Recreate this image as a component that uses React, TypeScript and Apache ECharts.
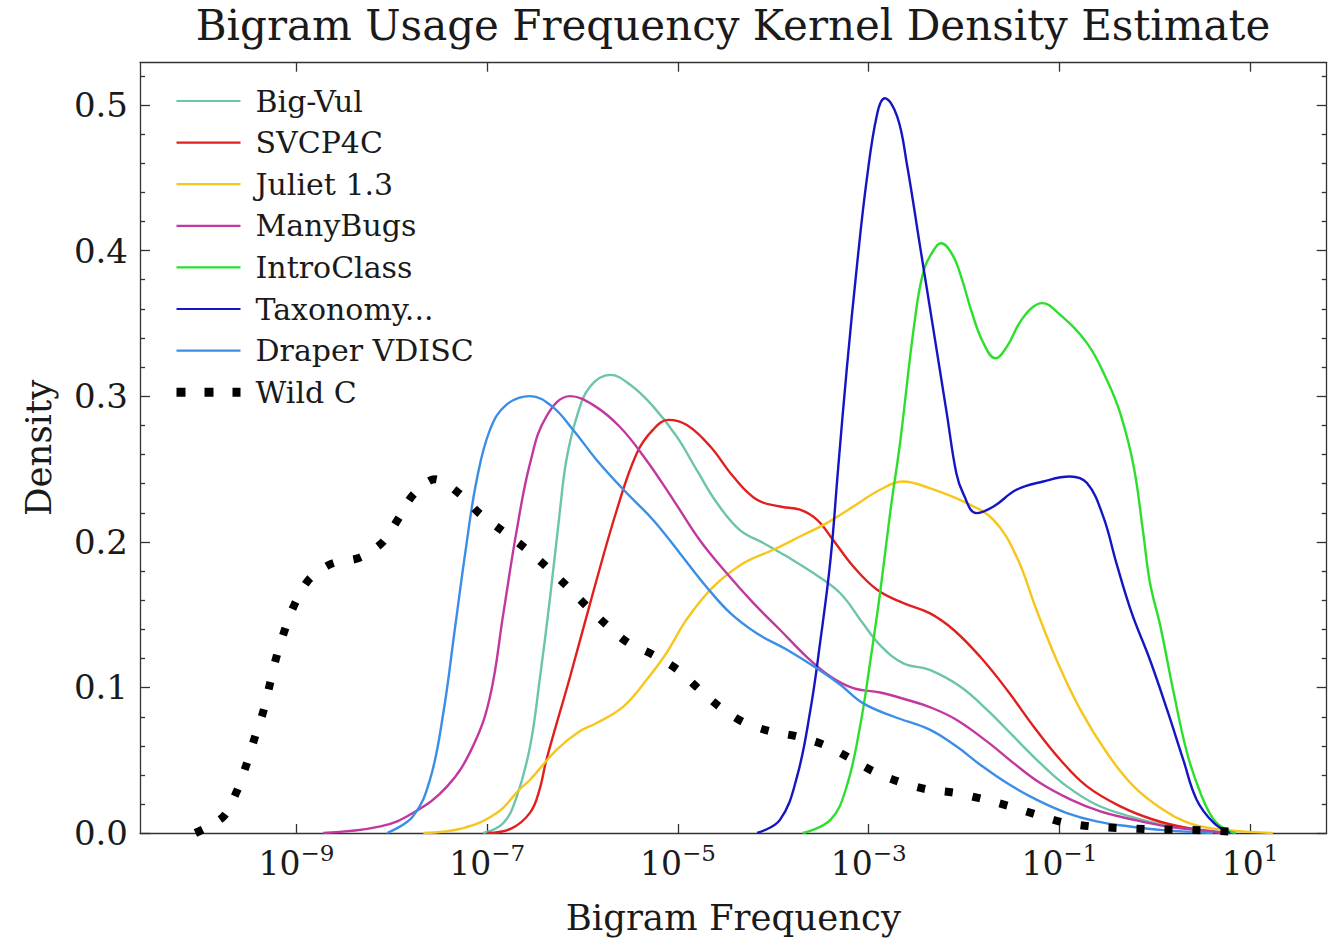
import React, { useEffect, useRef } from 'react';
import * as echarts from 'echarts';

const FONT = "'DejaVu Serif', serif";
const INK = '#1a1a1a';

// x values are log10(bigram frequency), y values are density
const bigVul = [[-7.04,0],[-6.83,0.0069],[-6.69,0.025],[-6.55,0.0595],[-6.45,0.105],[-6.34,0.162],[-6.24,0.2197],[-6.17,0.256],[-6.06,0.286],[-5.92,0.3066],[-5.71,0.3146],[-5.5,0.3078],[-5.26,0.293],[-5.01,0.272],[-4.8,0.249],[-4.59,0.2266],[-4.35,0.208],[-4.1,0.199],[-3.86,0.19],[-3.58,0.1785],[-3.3,0.1648],[-3.06,0.144],[-2.88,0.129],[-2.64,0.1167],[-2.36,0.112],[-2.04,0.1006],[-1.76,0.0847],[-1.48,0.0663],[-1.2,0.048],[-0.92,0.032],[-0.61,0.0194],[-0.26,0.0114],[0.09,0.0057],[0.48,0.0023],[0.79,0]];
const svcp4c = [[-7.0,0],[-6.75,0.003],[-6.55,0.014],[-6.45,0.03],[-6.38,0.05],[-6.13,0.1075],[-5.89,0.165],[-5.64,0.222],[-5.43,0.261],[-5.26,0.277],[-5.1,0.2837],[-4.91,0.2803],[-4.66,0.2654],[-4.42,0.2448],[-4.17,0.2288],[-3.93,0.2242],[-3.72,0.222],[-3.54,0.215],[-3.37,0.201],[-3.16,0.183],[-2.91,0.167],[-2.64,0.158],[-2.36,0.151],[-2.11,0.1396],[-1.83,0.121],[-1.55,0.0984],[-1.27,0.0732],[-0.99,0.0503],[-0.71,0.032],[-0.36,0.0183],[-0.01,0.0091],[0.34,0.0034],[0.69,0]];
const juliet = [[-7.67,0],[-7.25,0.0034],[-6.9,0.0137],[-6.66,0.03],[-6.55,0.0366],[-6.27,0.0572],[-6.03,0.0698],[-5.85,0.0755],[-5.57,0.087],[-5.33,0.105],[-5.12,0.1236],[-4.91,0.1465],[-4.63,0.169],[-4.31,0.1854],[-4.0,0.1945],[-3.72,0.2036],[-3.44,0.2128],[-3.16,0.2242],[-2.88,0.2357],[-2.64,0.2414],[-2.36,0.2368],[-1.97,0.2265],[-1.69,0.215],[-1.45,0.19],[-1.24,0.1533],[-1.03,0.119],[-0.78,0.0847],[-0.5,0.0549],[-0.22,0.032],[0.09,0.016],[0.41,0.0057],[0.79,0.0018],[1.24,0]];
const manyBugs = [[-8.72,0],[-8.12,0.0045],[-7.78,0.0137],[-7.42,0.032],[-7.15,0.0595],[-6.97,0.0938],[-6.83,0.151],[-6.69,0.208],[-6.55,0.254],[-6.38,0.286],[-6.13,0.3],[-5.89,0.294],[-5.61,0.279],[-5.33,0.256],[-5.05,0.229],[-4.77,0.201],[-4.49,0.1785],[-4.21,0.158],[-3.93,0.1396],[-3.65,0.121],[-3.4,0.1075],[-3.16,0.0995],[-2.88,0.0965],[-2.6,0.0915],[-2.36,0.0865],[-2.08,0.0778],[-1.76,0.0629],[-1.48,0.048],[-1.2,0.0343],[-0.88,0.0229],[-0.57,0.0148],[-0.22,0.0091],[0.13,0.0045],[0.48,0.0018],[0.79,0]];
const introClass = [[-3.69,0],[-3.4,0.009],[-3.23,0.032],[-3.09,0.0732],[-2.98,0.119],[-2.88,0.1648],[-2.77,0.222],[-2.67,0.268],[-2.52,0.35],[-2.42,0.3867],[-2.3,0.402],[-2.24,0.405],[-2.12,0.397],[-2.02,0.38],[-1.92,0.358],[-1.8,0.337],[-1.67,0.326],[-1.55,0.334],[-1.42,0.35],[-1.3,0.36],[-1.18,0.3639],[-1.01,0.357],[-0.71,0.3364],[-0.5,0.311],[-0.36,0.288],[-0.22,0.2517],[-0.12,0.206],[-0.05,0.172],[0.06,0.1419],[0.2,0.0961],[0.34,0.0549],[0.48,0.0275],[0.62,0.0091],[0.76,0.0018],[0.85,0]];
const taxonomy = [[-4.17,0],[-3.93,0.009],[-3.75,0.0389],[-3.61,0.0847],[-3.51,0.13],[-3.4,0.1876],[-3.32,0.25],[-3.23,0.318],[-3.12,0.391],[-3.02,0.4485],[-2.91,0.494],[-2.83,0.5046],[-2.7,0.492],[-2.6,0.46],[-2.46,0.4027],[-2.32,0.3455],[-2.18,0.288],[-2.08,0.247],[-2.01,0.2334],[-1.87,0.2197],[-1.69,0.2242],[-1.45,0.2357],[-1.17,0.2414],[-0.89,0.2448],[-0.71,0.2403],[-0.54,0.2174],[-0.4,0.185],[-0.24,0.151],[-0.05,0.119],[0.13,0.0847],[0.3,0.0503],[0.44,0.0229],[0.62,0.0069],[0.79,0]];
const draperVdisc = [[-8.05,0],[-7.78,0.0114],[-7.6,0.0366],[-7.46,0.0824],[-7.34,0.1396],[-7.22,0.197],[-7.11,0.2425],[-6.97,0.277],[-6.8,0.294],[-6.55,0.3],[-6.32,0.293],[-6.1,0.277],[-5.85,0.256],[-5.57,0.2357],[-5.26,0.215],[-4.98,0.1922],[-4.7,0.169],[-4.45,0.151],[-4.17,0.137],[-3.86,0.126],[-3.54,0.113],[-3.3,0.102],[-3.06,0.0892],[-2.74,0.08],[-2.36,0.071],[-2.08,0.0595],[-1.83,0.0469],[-1.55,0.0343],[-1.24,0.0229],[-0.92,0.0137],[-0.61,0.008],[-0.26,0.0045],[0.09,0.002],[0.61,0]];
const wildC = [[-10.06,0],[-9.77,0.011],[-9.63,0.028],[-9.53,0.046],[-9.44,0.065],[-9.35,0.083],[-9.28,0.102],[-9.21,0.121],[-9.12,0.14],[-9.02,0.157],[-8.87,0.174],[-8.63,0.185],[-8.34,0.189],[-8.1,0.1995],[-7.93,0.216],[-7.78,0.232],[-7.55,0.243],[-7.29,0.233],[-7.09,0.22],[-6.85,0.208],[-6.61,0.196],[-6.39,0.1835],[-6.18,0.1705],[-5.96,0.156],[-5.75,0.143],[-5.53,0.131],[-5.26,0.1224],[-5.0,0.112],[-4.79,0.0995],[-4.57,0.087],[-4.31,0.076],[-4.04,0.07],[-3.75,0.0663],[-3.47,0.0606],[-3.21,0.0519],[-2.95,0.0423],[-2.69,0.0354],[-2.39,0.03],[-2.09,0.0275],[-1.8,0.0233],[-1.52,0.0183],[-1.24,0.0126],[-0.96,0.0073],[-0.66,0.0045],[-0.37,0.0034],[-0.08,0.0027],[0.21,0.0023],[0.5,0.0018],[0.79,0.001],[0.9,0]];

const seriesNames = ['Big-Vul', 'SVCP4C', 'Juliet 1.3', 'ManyBugs', 'IntroClass', 'Taxonomy...', 'Draper VDISC', 'Wild C'];
const seriesData = [bigVul, svcp4c, juliet, manyBugs, introClass, taxonomy, draperVdisc, wildC];
const seriesColors = ['#6cc4a9', '#e0201e', '#f7c61c', '#c2389f', '#2ddf2d', '#1515c4', '#3b8ee8', '#000000'];

const xTickExponents = [-9, -7, -5, -3, -1, 1];
const yTickValues = [0, 0.1, 0.2, 0.3, 0.4, 0.5];
const yMinorTickValues = [0.02, 0.04, 0.06, 0.08, 0.12, 0.14, 0.16, 0.18, 0.22, 0.24, 0.26, 0.28, 0.32, 0.34, 0.36, 0.38, 0.42, 0.44, 0.46, 0.48, 0.52];

const X_MIN = -10.641;
const X_MAX = 1.804;
const Y_MIN = 0;
const Y_MAX = 0.529;

export default function App() {
  const ref = useRef<HTMLDivElement>(null);

  useEffect(() => {
    document.body.style.margin = '0';
    if (!ref.current) return;
    const chart = echarts.init(ref.current, undefined, { renderer: 'svg' });

    const axisLineStyle = { color: '#333', width: 1.3 };
    const gridRect = { left: 140, right: 6.3, top: 62.7, bottom: 106.7, containLabel: false };
    const baseX = {
      type: 'value',
      min: X_MIN,
      max: X_MAX,
      splitLine: { show: false },
      axisLine: { show: true, lineStyle: axisLineStyle, onZero: false },
      axisTick: { show: true, inside: true, length: 9, lineStyle: axisLineStyle, customValues: xTickExponents },
    };
    const baseY = {
      type: 'value',
      min: Y_MIN,
      max: Y_MAX,
      splitLine: { show: false },
      axisLine: { show: true, lineStyle: axisLineStyle, onZero: false },
    };
    const minorY = (position: string) => ({
      ...baseY,
      gridIndex: 1,
      position,
      axisLine: { show: false, onZero: false },
      axisTick: { show: true, inside: true, length: 5, lineStyle: axisLineStyle, customValues: yMinorTickValues },
      axisLabel: { show: false },
    });

    const legendData = seriesNames.map((name) =>
      name === 'Wild C'
        ? { name, lineStyle: { width: 9, type: [9, 19], cap: 'butt', color: '#000' } }
        : { name, lineStyle: { width: 2.2 } }
    );

    const option: any = {
      animation: false,
      backgroundColor: '#ffffff',
      textStyle: { fontFamily: FONT },
      title: {
        text: 'Bigram Usage Frequency Kernel Density Estimate',
        left: 733,
        top: 4,
        padding: 0,
        textAlign: 'center',
        textStyle: { fontFamily: FONT, fontSize: 42, fontWeight: 'normal', color: INK },
      },
      legend: {
        orient: 'vertical',
        left: 167,
        top: 81,
        itemWidth: 64,
        itemHeight: 14,
        itemGap: 11.6,
        data: legendData,
        itemStyle: { opacity: 0 },
        textStyle: { fontFamily: FONT, fontSize: 30, color: INK, lineHeight: 28, padding: [0, 0, 0, 10] },
      },
      grid: [gridRect, { ...gridRect }],
      xAxis: [
        {
          ...baseX,
          position: 'bottom',
          name: 'Bigram Frequency',
          nameLocation: 'middle',
          nameGap: 66,
          nameTextStyle: { fontFamily: FONT, fontSize: 35.5, color: INK },
          axisLabel: {
            show: true,
            margin: 8,
            customValues: xTickExponents,
            formatter: (v: number) => {
              const s = String(Math.round(v)).replace('-', '\u2212');
              return `{b|10}{s|${s}}`;
            },
            rich: {
              b: { fontFamily: FONT, fontSize: 33, lineHeight: 44, color: INK },
              s: { fontFamily: FONT, fontSize: 23, lineHeight: 22, verticalAlign: 'top', color: INK },
            },
          },
        },
        {
          ...baseX,
          position: 'top',
          axisLabel: { show: false },
        },
        {
          ...baseX,
          gridIndex: 1,
          show: false,
        },
      ],
      yAxis: [
        {
          ...baseY,
          position: 'left',
          name: 'Density',
          nameLocation: 'middle',
          nameGap: 84,
          nameTextStyle: { fontFamily: FONT, fontSize: 35.5, color: INK },
          axisTick: { show: true, inside: true, length: 10, lineStyle: axisLineStyle, customValues: yTickValues },
          axisLabel: {
            show: true,
            margin: 12,
            customValues: yTickValues,
            formatter: (v: number) => v.toFixed(1),
            fontFamily: FONT,
            fontSize: 34,
            color: INK,
          },
        },
        {
          ...baseY,
          position: 'right',
          axisTick: { show: true, inside: true, length: 10, lineStyle: axisLineStyle, customValues: yTickValues },
          axisLabel: { show: false },
        },
        minorY('left'),
        minorY('right'),
      ],
      series: seriesNames.map((name, i) => {
        const isWild = name === 'Wild C';
        return {
          name,
          type: 'line',
          xAxisIndex: 0,
          yAxisIndex: 0,
          data: seriesData[i],
          smooth: isWild ? 0.3 : 0.4,
          symbol: 'none',
          color: seriesColors[i],
          lineStyle: isWild
            ? { color: seriesColors[i], width: 8, type: [8, 20], cap: 'butt' }
            : { color: seriesColors[i], width: 2.4 },
          z: isWild ? 3 : 2,
        };
      }),
    };

    chart.setOption(option);
    return () => chart.dispose();
  }, []);

  return <div ref={ref} style={{ width: 1333, height: 940 }} />;
}
